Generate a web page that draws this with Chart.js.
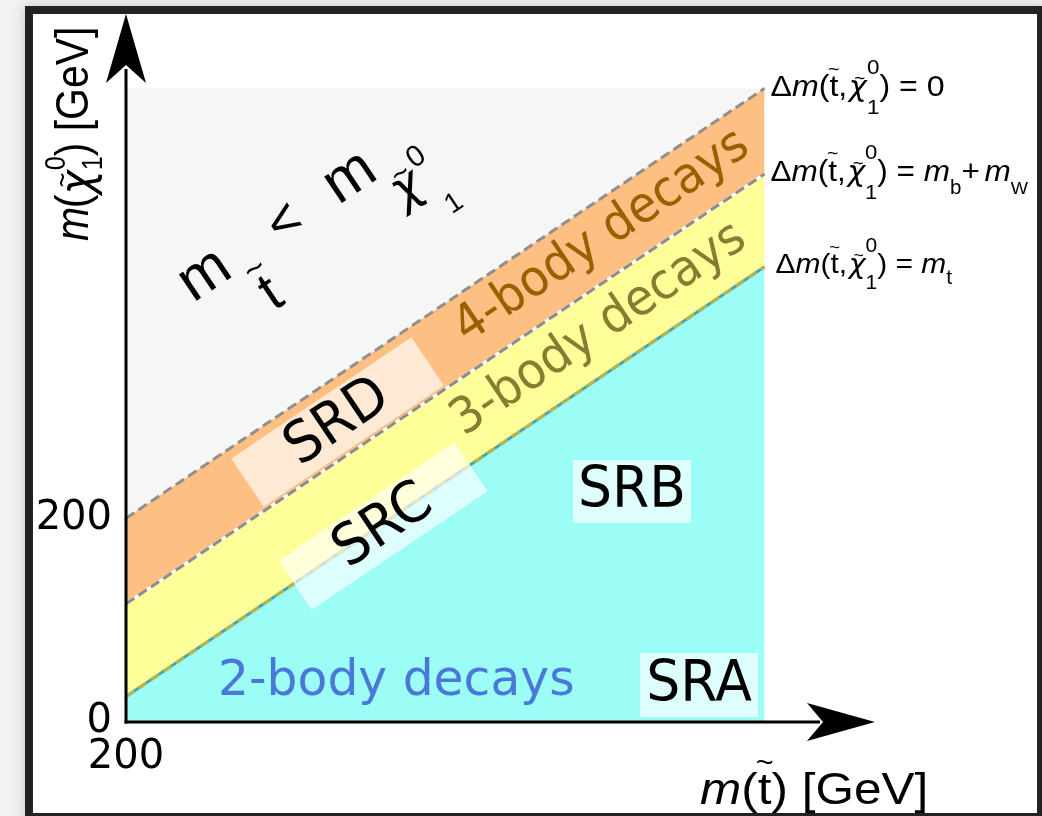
<!DOCTYPE html>
<html>
<head>
<meta charset="utf-8">
<script src="https://cdn.jsdelivr.net/npm/chart.js@4.4.0/dist/chart.umd.min.js"></script>
<style>
    html, body { margin: 0; padding: 0; width: 1042px; height: 816px; overflow: hidden; background: #f2f2f2; }
    #frame { position: absolute; left: 25px; top: 6px; width: 1004px; height: 799px; border: 8px solid #222; background: #fff; box-shadow: 0 0 14px rgba(0,0,0,0.18); }
    #diagram { position: absolute; left: 0; top: 0; }
</style>
</head>
<body>
<div id="frame"></div>
<canvas id="diagram" width="1042" height="816"></canvas>
<script>
// Diagrama de regiones de señal: m(stop) frente a m(neutralino)

// Datos (GeV)
const stopMass    = [200, 622];   // extremos de m(t~) en el diagrama
const regionTop   = [622, 622];   // borde superior de la zona sombreada
const dmZero      = [200, 622];   // Δm(t~, χ~) = 0
const dmBW        = [116, 538];   // Δm = m_b + m_W
const dmTop       = [25, 447];    // Δm = m_t
const yTickValues = [0, 200];
const xTickValues = [200];

// Etiquetas de las regiones (posición en unidades de datos)
const bandLabels = [
    { text: '4-body decays', at: [514.6, 476], color: '#9c5f00' },
    { text: '3-body decays', at: [512.6, 385], color: '#877d32' }
];
const srBoxes = [
    { text: 'SRD', at: [339.8, 294.5], w: 217, h: 58, rotated: true },
    { text: 'SRC', at: [369.9, 192.4], w: 212, h: 59, rotated: true },
    { text: 'SRB', at: [534.4, 226.3], w: 118, h: 63, rotated: false },
    { text: 'SRA', at: [578.7, 36.3],  w: 118, h: 64, rotated: false }
];

const SANS = '"Liberation Sans", Arial, sans-serif';
const DEJAVU = '"DejaVu Sans", sans-serif';

if (typeof Chart === 'undefined') {
    console.error('Chart.js no está cargado.');
}

const pts = (xs, ys) => xs.map((x, i) => ({ x: x, y: ys[i] }));

// Texto con sub/superíndices y tildes
function richText(c, parts, o) {
    c.save();
    c.translate(o.x, o.y);
    c.rotate(o.angle || 0);
    c.scale(o.sx || 1, 1);
    c.fillStyle = o.color || '#000';
    c.textAlign = 'left';
    c.textBaseline = 'alphabetic';
    let pen = 0, last = 0;
    for (const p of parts) {
        const family = p.fam || o.family || SANS;
        const size = p.size || o.size * (p.scale || 1);
        c.font = (p.it ? 'italic ' : '') + size + 'px ' + family;
        const w = c.measureText(p.t).width;
        let x0, y0;
        if (p.at) {
            x0 = p.at[0]; y0 = p.at[1];
        } else {
            x0 = p.stack ? last : pen + (p.dx || 0) * o.size;
            y0 = (p.dy || 0) * o.size;
        }
        c.fillText(p.t, x0, y0);
        if (p.tilde) {
            const ts = size * (p.tw || 0.62);
            c.font = ts + 'px ' + SANS;
            const tw = c.measureText('~').width;
            const cx = x0 + w / 2 + (p.tx || 0) * size;
            const cy = y0 - (p.tc || 0.9) * size;
            c.fillText('~', cx - tw / 2, cy + 0.345 * ts);
        }
        if (p.stack) {
            pen = Math.max(pen, x0 + w);
        } else {
            last = x0;
            pen = x0 + w;
        }
    }
    c.restore();
}

const chi = { t: 'χ', it: 1, fam: DEJAVU, tilde: 1, tc: 0.64, tx: 0.06 };

const eqHead = [
    { t: 'Δ' }, { t: 'm', it: 1 }, { t: '(' },
    { t: 't', tilde: 1, tc: 0.93 }, { t: ',' },
    Object.assign({ dx: 0.05, scale: 0.95 }, chi),
    { t: '0', scale: 0.7, dy: -0.73 }, { t: '1', scale: 0.7, dy: 0.6, stack: 1 },
    { t: ')' }
];
const eqLabels = [
    { parts: eqHead.concat([{ t: ' = 0' }]), size: 30, sx: 1.07, dx: 6, dy: 8, line: dmZero },
    { parts: eqHead.concat([{ t: ' = ' }, { t: 'm', it: 1 }, { t: 'b', scale: 0.65, dy: 0.45 },
        { t: '+' }, { t: 'm', it: 1, dx: 0.15 }, { t: 'W', scale: 0.58, dy: 0.45 }]), size: 30, sx: 1.05, dx: 6, dy: 7, line: dmBW },
    { parts: eqHead.concat([{ t: ' = ' }, { t: 'm', it: 1 }, { t: 't', scale: 0.7, dy: 0.4 }]), size: 28, sx: 1.07, dx: 11, dy: 6, line: dmTop }
];

const mLessM = [
    { t: 'm', size: 60, at: [-2, 0] },
    { t: 't', size: 56, at: [60, 52], tilde: 1, tc: 0.84 },
    { t: '<', size: 54, at: [103, 0] },
    { t: 'm', size: 60, at: [173, 0] },
    Object.assign({ size: 48, at: [225, 38] }, chi),
    { t: '0', size: 30, at: [256, 12] },
    { t: '1', size: 28, at: [262, 71] }
];

const decor = {
    id: 'decor',
    afterDatasetsDraw(chart) {
        const c = chart.ctx;
        const xs = chart.scales.x, ys = chart.scales.y;
        const ang = Math.atan2(ys.getPixelForValue(dmZero[1]) - ys.getPixelForValue(dmZero[0]),
                               xs.getPixelForValue(stopMass[1]) - xs.getPixelForValue(stopMass[0]));

        // Cajas de las regiones de señal
        srBoxes.forEach(b => {
            const px = xs.getPixelForValue(b.at[0]), py = ys.getPixelForValue(b.at[1]);
            c.save();
            c.translate(px, py);
            if (b.rotated) c.rotate(ang);
            c.fillStyle = 'rgba(255,255,255,0.66)';
            c.fillRect(-b.w / 2, -b.h / 2, b.w, b.h);
            c.scale(0.94, 1);
            c.fillStyle = '#000';
            c.font = '57px ' + DEJAVU;
            c.textAlign = 'center';
            c.textBaseline = 'middle';
            c.fillText(b.text, 0, 1);
            c.restore();
        });

        // Etiquetas de las bandas
        bandLabels.forEach(l => {
            c.save();
            c.translate(xs.getPixelForValue(l.at[0]), ys.getPixelForValue(l.at[1]));
            c.rotate(ang);
            c.scale(0.94, 1);
            c.fillStyle = l.color;
            c.font = '50px ' + DEJAVU;
            c.textAlign = 'center';
            c.textBaseline = 'middle';
            c.fillText(l.text, 0, 0);
            c.restore();
        });

        c.save();
        c.fillStyle = '#4a78d8';
        c.font = '50px ' + DEJAVU;
        c.translate(xs.getPixelForValue(260.8), ys.getPixelForValue(26.5));
        c.scale(0.975, 1);
        c.textAlign = 'left';
        c.textBaseline = 'alphabetic';
        c.fillText('2-body decays', 0, 0);
        c.restore();

        richText(c, mLessM, { x: xs.getPixelForValue(245.6), y: ys.getPixelForValue(412.3), angle: ang, size: 56 });

        // Ecuaciones a la derecha de cada línea
        eqLabels.forEach(e => {
            richText(c, e.parts, {
                x: xs.getPixelForValue(stopMass[1]) + e.dx,
                y: ys.getPixelForValue(e.line[1]) + e.dy,
                size: e.size, sx: e.sx
            });
        });

        // Títulos de los ejes
        richText(c, [{ t: 'm', it: 1 }, { t: '(' }, { t: 't', tilde: 1, tc: 0.93 }, { t: ')' }, { t: ' [GeV]' }],
            { x: 700, y: 804, size: 45, sx: 1.1 });
        richText(c, [{ t: 'm', it: 1 }, { t: '(', dx: -0.03 }, Object.assign({ dy: 0.08 }, chi),
            { t: '0', scale: 0.62, dy: -0.5 }, { t: '1', scale: 0.62, dy: 0.3, stack: 1 },
            { t: ')' }, { t: ' [GeV]' }],
            { x: 88, y: 241, angle: -Math.PI / 2, size: 47, sx: 0.87 });
    },
    afterDraw(chart) {
        const c = chart.ctx, a = chart.chartArea;
        c.save();
        c.strokeStyle = '#000';
        c.fillStyle = '#000';
        c.lineWidth = 3;
        // eje y con flecha
        c.beginPath();
        c.moveTo(a.left, a.bottom + 1.5);
        c.lineTo(a.left, a.top + 55);
        c.stroke();
        c.beginPath();
        c.moveTo(a.left, a.top);
        c.lineTo(a.left + 20, a.top + 69);
        c.lineTo(a.left, a.top + 51);
        c.lineTo(a.left - 20, a.top + 69);
        c.closePath();
        c.fill();
        // eje x con flecha
        c.beginPath();
        c.moveTo(a.left - 1.5, a.bottom);
        c.lineTo(a.right - 55, a.bottom);
        c.stroke();
        c.beginPath();
        c.moveTo(a.right, a.bottom);
        c.lineTo(a.right - 68, a.bottom - 19);
        c.lineTo(a.right - 52, a.bottom);
        c.lineTo(a.right - 68, a.bottom + 19);
        c.closePath();
        c.fill();
        c.restore();
    }
};

const base = { pointRadius: 0, tension: 0 };

new Chart(document.getElementById('diagram'), {
    type: 'line',
    data: {
        datasets: [
            Object.assign({ label: 'region', data: pts(stopMass, regionTop), fill: 'origin',
                backgroundColor: '#f6f6f6', borderWidth: 0, order: 10 }, base),
            Object.assign({ label: 'dm0', data: pts(stopMass, dmZero), fill: '+1',
                backgroundColor: '#fdbf82', borderWidth: 0, order: 5 }, base),
            Object.assign({ label: 'dmbW', data: pts(stopMass, dmBW), fill: '+1',
                backgroundColor: '#ffff9a', borderColor: '#ffffff', borderWidth: 3, order: 4 }, base),
            Object.assign({ label: 'dmt', data: pts(stopMass, dmTop), fill: 'origin',
                backgroundColor: '#9cfcf6', borderColor: '#48a4ad', borderWidth: 3, order: 3 }, base),
            Object.assign({ label: 'dm0 line', data: pts(stopMass, dmZero), fill: false,
                borderColor: '#8f8f8f', borderWidth: 3, borderDash: [10, 5], order: 1 }, base),
            Object.assign({ label: 'dmbW line', data: pts(stopMass, dmBW), fill: false,
                borderColor: '#8c8c8c', borderWidth: 3, borderDash: [10, 5], order: 1 }, base),
            Object.assign({ label: 'dmt line', data: pts(stopMass, dmTop), fill: false,
                borderColor: '#b9b44c', borderWidth: 3, borderDash: [10, 5], order: 1 }, base)
        ]
    },
    options: {
        responsive: false,
        animation: false,
        events: [],
        layout: { padding: { top: 14, right: 167, bottom: 0, left: 0 } },
        plugins: {
            legend: { display: false },
            tooltip: { enabled: false }
        },
        scales: {
            x: {
                type: 'linear',
                min: 200,
                max: 695,
                grid: { display: false, drawTicks: false },
                border: { display: false },
                ticks: { color: '#000', padding: 12, font: { family: 'DejaVu Sans', size: 40 } },
                afterBuildTicks: s => { s.ticks = xTickValues.map(v => ({ value: v })); },
                afterFit: s => { s.height = 94; s.paddingLeft = s.paddingRight = 0; }
            },
            y: {
                type: 'linear',
                min: 0,
                max: 695,
                grid: { display: false, drawTicks: false },
                border: { display: false },
                ticks: { color: '#000', padding: 14, font: { family: 'DejaVu Sans', size: 40 } },
                afterBuildTicks: s => { s.ticks = yTickValues.map(v => ({ value: v })); },
                afterFit: s => { s.width = 126; s.paddingTop = s.paddingBottom = 0; }
            }
        }
    },
    plugins: [decor]
});
</script>
</body>
</html>
